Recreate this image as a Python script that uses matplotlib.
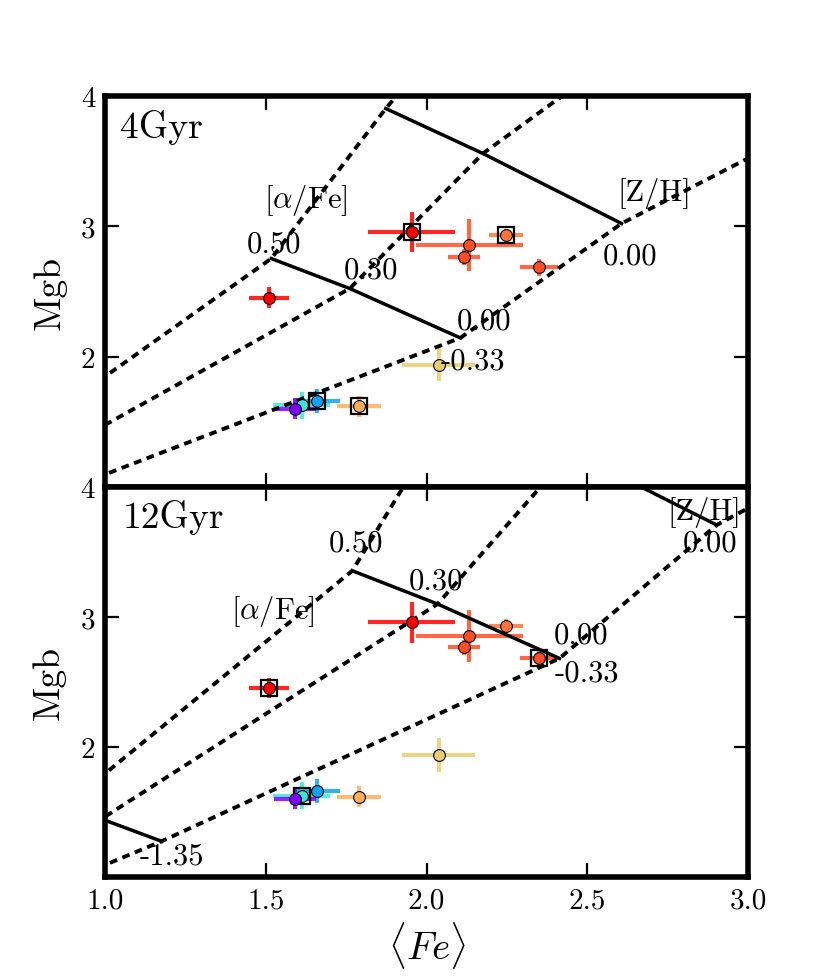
import matplotlib
matplotlib.use("Agg")
import matplotlib.pyplot as plt
import numpy as np

plt.rcParams['font.family'] = 'serif'
plt.rcParams['font.serif'] = ['cmr10']
plt.rcParams['mathtext.fontset'] = 'cm'
plt.rcParams['axes.formatter.use_mathtext'] = True
plt.rcParams['axes.unicode_minus'] = False

# ---------------- data ----------------
fe = [1.509, 1.953, 2.133, 2.117, 2.247, 2.349, 2.037, 1.790, 1.658, 1.611, 1.592]
fe_err = [0.062, 0.134, 0.166, 0.050, 0.052, 0.060, 0.112, 0.069, 0.073, 0.090, 0.065]
mgb = [2.454, 2.958, 2.855, 2.766, 2.932, 2.686, 1.939, 1.619, 1.661, 1.627, 1.602]
mgb_err = [0.077, 0.154, 0.200, 0.060, 0.050, 0.067, 0.128, 0.080, 0.090, 0.105, 0.080]
color_val = [1.0, 1.0, 0.9, 0.9, 0.85, 0.9, 0.70, 0.76, 0.22, 0.36, 0.0]

squares_4gyr = [1, 4, 7, 8]
squares_12gyr = [0, 5, 9]

zh_grid = [-2.25, -1.35, -0.33, 0.00, 0.35]
afe_grid = [0.0, 0.3, 0.5]
zh_solid = [-1.35, -0.33, 0.00]

# model grids: rows = [alpha/Fe], columns = [Z/H]
fe_4gyr = [[0.70, 0.88, 2.105, 2.606, 3.10],
           [0.65, 0.80, 1.761, 2.175, 2.60],
           [0.60, 0.75, 1.517, 1.873, 2.05]]
mgb_4gyr = [[0.82, 0.983, 2.144, 3.022, 3.65],
            [1.00, 1.201, 2.523, 3.559, 4.32],
            [1.20, 1.410, 2.753, 3.904, 4.42]]

fe_12gyr = [[0.90, 1.176, 2.413, 2.902, 3.10],
            [0.75, 0.989, 2.034, 2.450, 2.70],
            [0.65, 0.879, 1.769, 2.050, 2.20]]
mgb_12gyr = [[0.99, 1.275, 2.682, 3.708, 3.97],
             [1.10, 1.447, 3.100, 4.270, 4.90],
             [1.20, 1.550, 3.356, 4.500, 5.10]]

# labels (text, x, y, ha, size)
labels_4gyr = [("4Gyr", 1.047, 3.766, 'left', 27),
               (r"[$\alpha$/Fe]", 1.624, 3.206, 'center', 22),
               ("0.50", 1.527, 2.868, 'center', 22),
               ("0.30", 1.826, 2.668, 'center', 22),
               ("0.00", 2.179, 2.277, 'center', 22),
               ("-0.33", 2.144, 1.970, 'center', 22),
               ("0.00", 2.631, 2.776, 'center', 22),
               ("[Z/H]", 2.709, 3.259, 'center', 22)]
labels_12gyr = [("12Gyr", 1.056, 3.777, 'left', 27),
                (r"[$\alpha$/Fe]", 1.521, 3.054, 'center', 22),
                ("0.50", 1.780, 3.569, 'center', 22),
                ("0.30", 2.029, 3.277, 'center', 22),
                ("0.00", 2.481, 2.862, 'center', 22),
                ("-0.33", 2.497, 2.569, 'center', 22),
                ("[Z/H]", 2.862, 3.815, 'center', 22),
                ("0.00", 2.880, 3.569, 'center', 22),
                ("-1.35", 1.209, 1.162, 'center', 22)]

xticks = [1.0, 1.5, 2.0, 2.5, 3.0]
yticks = [2, 3, 4]

# ---------------- figure ----------------
fig = plt.figure(figsize=(8.3, 9.78), dpi=100)
ax1 = fig.add_axes([0.1265, 0.501, 0.775, 0.3998])
ax2 = fig.add_axes([0.1265, 0.1022, 0.775, 0.3988])

cmap = plt.get_cmap('rainbow')


def draw_panel(ax, gfe, gmgb, squares, labels):
    gfe = np.array(gfe)
    gmgb = np.array(gmgb)
    for i in range(len(afe_grid)):
        ax.plot(gfe[i], gmgb[i], color='black', lw=2.8, ls=(0, (2.0, 1.45)), zorder=2)
    for z in zh_solid:
        j = zh_grid.index(z)
        ax.plot(gfe[:, j], gmgb[:, j], color='black', lw=2.5, ls='-', zorder=2)
    for k in range(len(fe)):
        c = cmap(color_val[k])
        ax.errorbar(fe[k], mgb[k], xerr=fe_err[k], yerr=mgb_err[k], fmt='none',
                    ecolor=c, elinewidth=3.0, alpha=0.85, capsize=0, zorder=1)
    for k in range(len(fe)):
        c = cmap(color_val[k])
        ax.plot(fe[k], mgb[k], 'o', color=c, mec='black', mew=0.8, ms=8.5, zorder=4)
    for k in squares:
        ax.plot(fe[k], mgb[k], 's', mfc='none', mec='black', mew=1.6, ms=12, zorder=3)
    for t, x, y, ha, fs in labels:
        ax.text(x, y, t, fontsize=fs, ha=ha, va='center', zorder=5)
    ax.set_xlim(1.0, 3.0)
    ax.set_ylim(1.0, 4.0)
    ax.set_xticks(xticks)
    ax.set_yticks(yticks)
    ax.tick_params(direction='in', length=10, width=1.6, top=True, right=True,
                   labelsize=21, pad=7)
    for s in ax.spines.values():
        s.set_linewidth(4.0)
    ax.set_ylabel("Mgb", fontsize=27, labelpad=10)


draw_panel(ax1, fe_4gyr, mgb_4gyr, squares_4gyr, labels_4gyr)
draw_panel(ax2, fe_12gyr, mgb_12gyr, squares_12gyr, labels_12gyr)

ax1.tick_params(labelbottom=False)
ax1.set_yticklabels(['2', '3', '4'])
ax2.xaxis.set_major_formatter(matplotlib.ticker.FormatStrFormatter('%.1f'))
ax2.set_xlabel(r"$\langle Fe \rangle$", fontsize=28, labelpad=4)

fig.savefig("out.png", dpi=100)
